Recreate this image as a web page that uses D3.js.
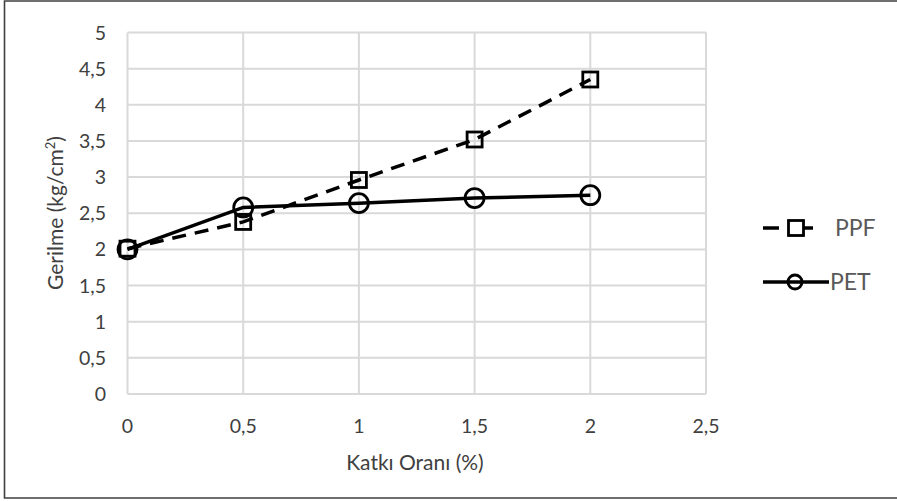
<!DOCTYPE html>
<html>
<head>
<meta charset="utf-8">
<script src="https://cdn.jsdelivr.net/npm/d3@7"></script>
<style>
  html, body { margin: 0; padding: 0; background: #fff; }
  svg { display: block; }
</style>
</head>
<body>
<svg id="chart" width="897" height="501"></svg>
<script>
const xValues = [0, 0.5, 1, 1.5, 2];
const ppfValues = [2.01, 2.38, 2.96, 3.52, 4.35];
const petValues = [2.0, 2.58, 2.64, 2.71, 2.75];
const xTicks = [0, 0.5, 1, 1.5, 2, 2.5];
const xTickLabels = ["0", "0,5", "1", "1,5", "2", "2,5"];
const yTicks = [0, 0.5, 1, 1.5, 2, 2.5, 3, 3.5, 4, 4.5, 5];
const yTickLabels = ["0", "0,5", "1", "1,5", "2", "2,5", "3", "3,5", "4", "4,5", "5"];
const seriesNames = ["PPF", "PET"];

(function () {
const svg = d3.select("#chart");
const font = "Lato, 'Open Sans', sans-serif";
const pL = 127.5, pR = 706, pT = 32.5, pB = 394;

const x = d3.scaleLinear().domain([0, 2.5]).range([pL, pR]);
const y = d3.scaleLinear().domain([0, 5]).range([pB, pT]);

// outer border (left, top, bottom)
svg.append("path").attr("d", "M900,1 H4.5 V498 H900")
  .attr("fill", "none").attr("stroke", "#404040").attr("stroke-width", 1.6);

// gridlines
svg.append("g").selectAll("line").data(yTicks).join("line")
  .attr("x1", pL).attr("x2", pR)
  .attr("y1", d => y(d)).attr("y2", d => y(d))
  .attr("stroke", "#d9d9d9").attr("stroke-width", 2);
svg.append("g").selectAll("line").data(xTicks).join("line")
  .attr("x1", d => x(d)).attr("x2", d => x(d))
  .attr("y1", pT).attr("y2", pB)
  .attr("stroke", "#d9d9d9").attr("stroke-width", 2);

// y tick labels
svg.append("g").selectAll("text").data(yTicks).join("text")
  .attr("x", 106).attr("y", d => y(d)).attr("dy", "0.36em")
  .attr("text-anchor", "end")
  .attr("font-family", font).attr("font-size", 19.5).attr("fill", "#404040")
  .text((d, i) => yTickLabels[i]);

// x tick labels
svg.append("g").selectAll("text").data(xTicks).join("text")
  .attr("x", d => x(d)).attr("y", 426).attr("dy", "0.36em")
  .attr("text-anchor", "middle")
  .attr("font-family", font).attr("font-size", 19.5).attr("fill", "#404040")
  .text((d, i) => xTickLabels[i]);

// axis titles
svg.append("text").attr("x", 415).attr("y", 469.5)
  .attr("text-anchor", "middle").attr("font-family", font).attr("font-size", 21).attr("fill", "#404040")
  .text("Katkı Oranı (%)");
const yt = svg.append("text")
  .attr("transform", "translate(55,213) rotate(-90)").attr("dy", "0.36em")
  .attr("text-anchor", "middle").attr("font-family", font).attr("font-size", 21).attr("fill", "#404040");
yt.append("tspan").text("Gerilme (kg/cm");
yt.append("tspan").attr("baseline-shift", "super").attr("font-size", 13).text("2");
yt.append("tspan").text(")");

const line = d3.line().x(d => x(d[0])).y(d => y(d[1]));
const ppf = xValues.map((v, i) => [v, ppfValues[i]]);
const pet = xValues.map((v, i) => [v, petValues[i]]);

// series lines
svg.append("path").datum(ppf).attr("d", line).attr("fill", "none")
  .attr("stroke", "#000").attr("stroke-width", 3.5).attr("stroke-dasharray", "14,9");
svg.append("path").datum(pet).attr("d", line).attr("fill", "none")
  .attr("stroke", "#000").attr("stroke-width", 3.5);

// markers
svg.append("g").selectAll("rect").data(ppf).join("rect")
  .attr("x", d => x(d[0]) - 7.5).attr("y", d => y(d[1]) - 7.5)
  .attr("width", 15).attr("height", 15)
  .attr("fill", "none").attr("stroke", "#000").attr("stroke-width", 2.8);
svg.append("g").selectAll("circle").data(pet).join("circle")
  .attr("cx", d => x(d[0])).attr("cy", d => y(d[1])).attr("r", 9.5)
  .attr("fill", "none").attr("stroke", "#000").attr("stroke-width", 2.8);

// legend
const lg = svg.append("g");
lg.append("line").attr("x1", 763).attr("x2", 779).attr("y1", 228).attr("y2", 228)
  .attr("stroke", "#000").attr("stroke-width", 3.5);
lg.append("line").attr("x1", 803).attr("x2", 813).attr("y1", 228).attr("y2", 228)
  .attr("stroke", "#000").attr("stroke-width", 3.5);
lg.append("rect").attr("x", 788.5).attr("y", 220.5).attr("width", 15).attr("height", 15)
  .attr("fill", "none").attr("stroke", "#000").attr("stroke-width", 2.8);
lg.append("text").attr("x", 835).attr("y", 228).attr("dy", "0.36em")
  .attr("font-family", font).attr("font-size", 23).attr("fill", "#595959").text(seriesNames[0]);

lg.append("line").attr("x1", 763).attr("x2", 829).attr("y1", 282).attr("y2", 282)
  .attr("stroke", "#000").attr("stroke-width", 3.5);
lg.append("circle").attr("cx", 795).attr("cy", 282).attr("r", 7)
  .attr("fill", "none").attr("stroke", "#000").attr("stroke-width", 2.8);
lg.append("text").attr("x", 830).attr("y", 282).attr("dy", "0.36em")
  .attr("font-family", font).attr("font-size", 23).attr("fill", "#595959").text(seriesNames[1]);
})();
</script>
</body>
</html>
